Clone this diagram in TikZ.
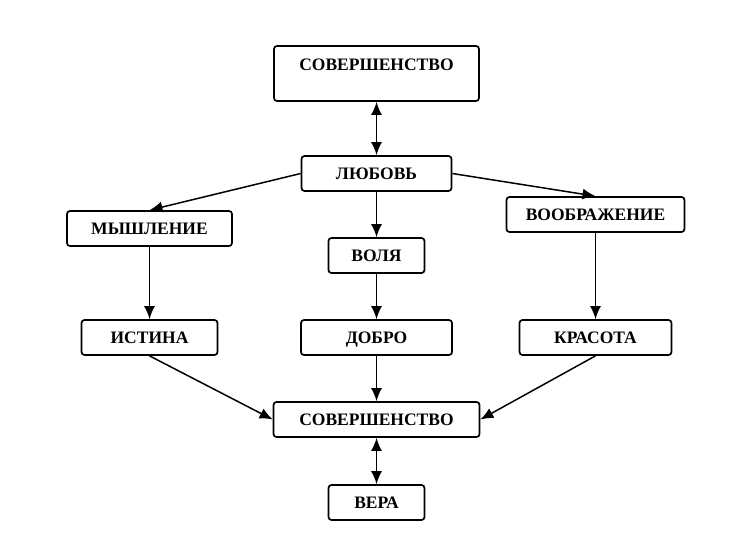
\documentclass[tikz,border=0pt]{standalone}
\usepackage{fontspec}
\setmainfont{Liberation Serif}
\usetikzlibrary{positioning,arrows.meta}

\begin{document}
\begin{tikzpicture}[x=1pt,y=1pt,-{Latex[length=13pt,width=11pt]},on grid,
line width=1.5pt,
box/.style ={rectangle,rounded corners=3pt,draw,line width=1.7pt,inner sep=0pt,
minimum height=35pt,text height=12pt,text depth=0pt,
font=\fontsize{17.5}{20}\selectfont\bfseries}]
\useasboundingbox (0,0) rectangle (737,-538);
\node[box,minimum width=205pt,text height=24.5pt,text depth=30.5pt] (S1) at (376.5,-73.5) {СОВЕРШЕНСТВО};
\node[box,minimum width=150pt] (L) [below = 100pt of S1] {ЛЮБОВЬ};
\node[box,minimum width=165pt] (M) [below left = 55pt and 227pt of L] {МЫШЛЕНИЕ};
\node[box,minimum width=178pt] (I) [below right = 41pt and 219pt of L] {ВООБРАЖЕНИЕ};
\node[box,minimum width=96pt] (W) [below = 82pt of L] {ВОЛЯ};
\node[box,minimum width=136pt] (T) [below = 109pt of M] {ИСТИНА};
\node[box,minimum width=151pt] (D) [below = 82pt of W] {ДОБРО};
\node[box,minimum width=152pt] (K) [below = 123pt of I] {КРАСОТА};
\node[box,minimum width=206pt] (S2) [below = 82pt of D] {СОВЕРШЕНСТВО};
\node[box,minimum width=96pt] (V) [below = 83pt of S2] {ВЕРА};
\draw[{Latex[length=13pt,width=11pt]}-{Latex[length=13pt,width=11pt]}] (S1) -- (L);
\draw (L.west) -- (M.north);
\draw (L.east) -- (I.north);
\draw (L) -- (W);
\draw (W) -- (D);
\draw (M) -- (T);
\draw (I) -- (K);
\draw (D) -- (S2);
\draw (T.south) -- (S2.west);
\draw (K.south) -- (S2.east);
\draw[{Latex[length=13pt,width=11pt]}-{Latex[length=13pt,width=11pt]}] (S2) -- (V);
\end{tikzpicture}
\end{document}
